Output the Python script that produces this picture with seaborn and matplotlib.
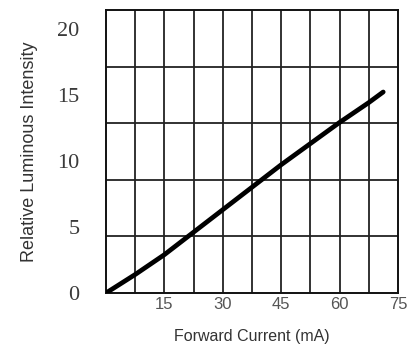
import numpy as np
import matplotlib
matplotlib.use("Agg")
import matplotlib.pyplot as plt
import seaborn as sns

# ── Data ─────────────────────────────────────────────────────────────────────
current_ma = [0, 7.5, 15, 22.5, 30, 37.5, 45, 52.5, 60, 67.5, 71.2]
intensity = [0, 1.4, 2.9, 4.6, 6.3, 8.0, 9.7, 11.3, 12.9, 14.4, 15.2]

x_ticks = [15, 30, 45, 60, 75]
y_ticks = [0, 5, 10, 15, 20]

# ── Plot ─────────────────────────────────────────────────────────────────────
sns.set_style("white")

fig = plt.figure(figsize=(4.1, 3.47), dpi=100)
ax = fig.add_axes([106 / 410, 54 / 347, 292 / 410, 283 / 347])

ax.set_xlim(0, 75)
ax.set_ylim(0, 21.4)

# grid cells: 10 columns x 5 rows (labels don't sit on the rows in the original)
for gx in np.arange(7.5, 75, 7.5):
    ax.axvline(gx, color="#222222", linewidth=1.3, zorder=1)
for gy in np.linspace(0, 21.4, 6)[1:-1]:
    ax.axhline(gy, color="#222222", linewidth=1.3, zorder=1)

sns.lineplot(x=current_ma, y=intensity, ax=ax, color="black",
             linewidth=3.4, solid_capstyle="round", solid_joinstyle="round",
             estimator=None, sort=False, zorder=3)

ax.set_xticks(x_ticks)
ax.set_xticklabels([str(v) for v in x_ticks], family="Liberation Sans",
                   fontsize=12, color="#555555")
ax.set_yticks(y_ticks)
ax.set_yticklabels([str(v) for v in y_ticks], family="Liberation Serif",
                   fontsize=16, color="#3a3a3a")
ax.tick_params(axis="both", which="both", length=0)
ax.tick_params(axis="x", pad=3)
ax.tick_params(axis="y", pad=19)

ax.set_xlabel("Forward Current (mA)", family="Liberation Sans", fontsize=11.5,
              color="#333333", labelpad=12)
ax.set_ylabel("Relative Luminous Intensity", family="Liberation Sans",
              fontsize=13, color="#333333", labelpad=14)

for spine in ax.spines.values():
    spine.set_visible(True)
    spine.set_color("#111111")
    spine.set_linewidth(1.4)

fig.savefig("out.png", dpi=100, facecolor="white")
